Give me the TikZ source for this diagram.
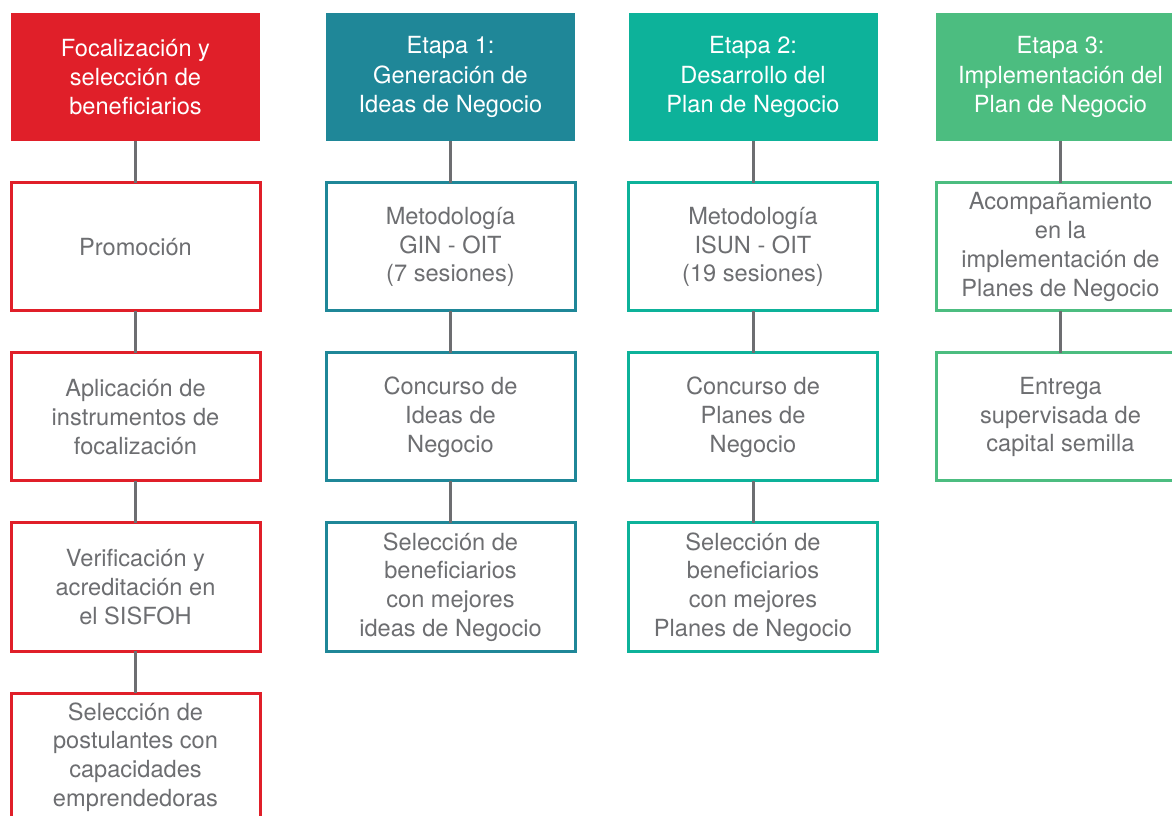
\documentclass[tikz,border=0pt]{standalone}
\usepackage{fontspec}
\setmainfont{TeX Gyre Heros}
\definecolor{cred}{RGB}{224,31,41}
\definecolor{cteal}{RGB}{31,135,152}
\definecolor{cturq}{RGB}{13,178,154}
\definecolor{cgreen}{RGB}{76,189,128}
\definecolor{cgray}{RGB}{109,110,113}
\tikzset{
  hdr/.style={draw=none, fill=#1, text=white, minimum width=186.75pt, minimum height=96pt,
    inner sep=0pt, align=center, font=\fontsize{17.7}{22}\selectfont},
  stepbox/.style={draw=#1, line width=2.25pt, fill=white, text=cgray, minimum width=186.75pt,
    minimum height=96pt, inner sep=0pt, outer sep=0pt, align=center, font=\fontsize{17.7}{21.6}\selectfont},
  link/.style={draw=cgray, line width=2.25pt}
}
\begin{document}
\begin{tikzpicture}[x=0.75pt,y=-0.75pt]
\useasboundingbox (0,0) rectangle (1172,816);
\fill[white] (0,0) rectangle (1172,816);
% column 1
\node[hdr=cred] (h1) at (135.5,77) {Focalización y\\selección de\\beneficiarios};
\node[stepbox=cred] (a1) at (135.5,247) {Promoción};
\node[stepbox=cred] (a2) at (135.5,417) {Aplicación de\\instrumentos de\\focalización};
\node[stepbox=cred] (a3) at (135.5,587) {Verificación y\\acreditación en\\el SISFOH};
\node[stepbox=cred] (a4) at (135.5,757) {Selección de\\postulantes con\\capacidades\\emprendedoras};
% column 2
\node[hdr=cteal] (h2) at (450.5,77) {Etapa 1:\\Generación de\\Ideas de Negocio};
\node[stepbox=cteal] (b1) at (450.5,247) {Metodología\\GIN - OIT\\(7 sesiones)};
\node[stepbox=cteal] (b2) at (450.5,417) {Concurso de\\Ideas de\\Negocio};
\node[stepbox=cteal] (b3) at (450.5,587) {Selección de\\beneficiarios\\con mejores\\ideas de Negocio};
% column 3
\node[hdr=cturq] (h3) at (753,77) {Etapa 2:\\Desarrollo del\\Plan de Negocio};
\node[stepbox=cturq] (c1) at (753,247) {Metodología\\ISUN - OIT\\(19 sesiones)};
\node[stepbox=cturq] (c2) at (753,417) {Concurso de\\Planes de\\Negocio};
\node[stepbox=cturq] (c3) at (753,587) {Selección de\\beneficiarios\\con mejores\\Planes de Negocio};
% column 4
\node[hdr=cgreen] (h4) at (1060.5,77) {Etapa 3:\\Implementación del\\Plan de Negocio};
\node[stepbox=cgreen] (d1) at (1060.5,247) {Acompañamiento\\en la\\implementación de\\Planes de Negocio};
\node[stepbox=cgreen] (d2) at (1060.5,417) {Entrega\\supervisada de\\capital semilla};
% connectors
\draw[link] (h1.south) -- (a1.north);
\draw[link] (a1.south) -- (a2.north);
\draw[link] (a2.south) -- (a3.north);
\draw[link] (a3.south) -- (a4.north);
\draw[link] (h2.south) -- (b1.north);
\draw[link] (b1.south) -- (b2.north);
\draw[link] (b2.south) -- (b3.north);
\draw[link] (h3.south) -- (c1.north);
\draw[link] (c1.south) -- (c2.north);
\draw[link] (c2.south) -- (c3.north);
\draw[link] (h4.south) -- (d1.north);
\draw[link] (d1.south) -- (d2.north);
\end{tikzpicture}
\end{document}
